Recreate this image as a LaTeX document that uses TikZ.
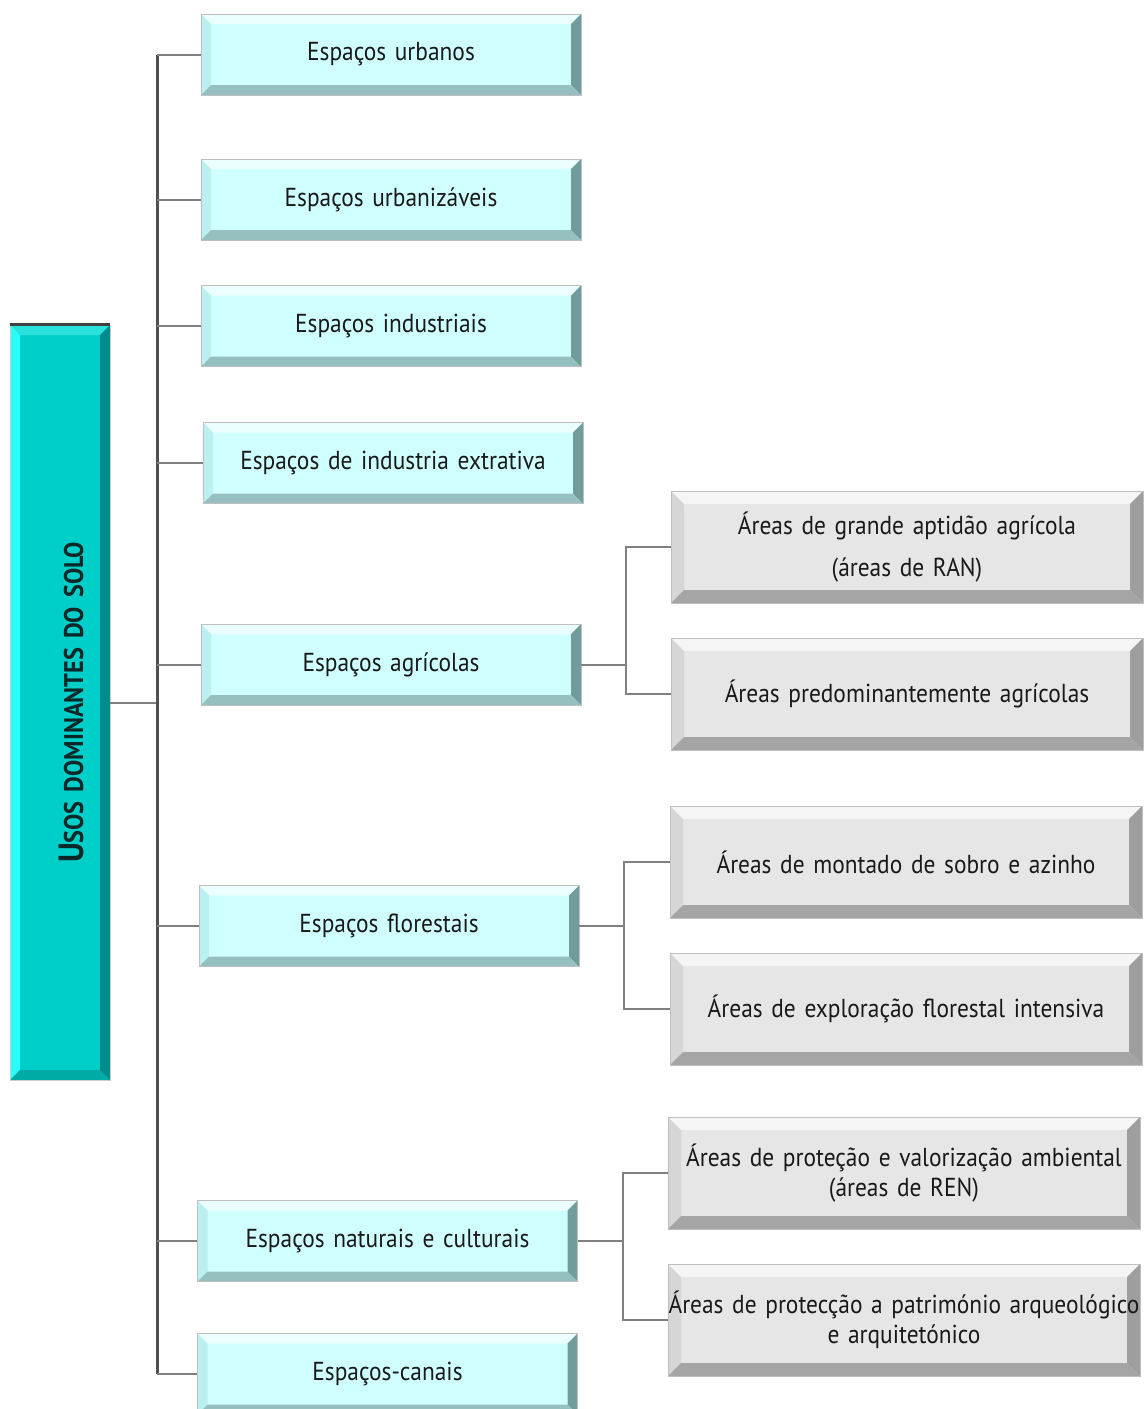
\documentclass[tikz,border=0pt]{standalone}
\usepackage{fontspec}
\setmainfont{PT Sans}[FakeStretch=0.9]
\usetikzlibrary{positioning}

\definecolor{cyanmain}{RGB}{208,255,255}
\definecolor{cyantop}{RGB}{236,255,255}
\definecolor{cyanleft}{RGB}{186,240,240}
\definecolor{cyanright}{RGB}{112,156,156}
\definecolor{cyanbottom}{RGB}{150,192,192}
\definecolor{greymain}{RGB}{230,230,230}
\definecolor{greytop}{RGB}{245,245,245}
\definecolor{greyleft}{RGB}{214,214,214}
\definecolor{greyright}{RGB}{158,158,158}
\definecolor{greybottom}{RGB}{165,165,165}
\definecolor{tealmain}{RGB}{0,206,200}
\definecolor{tealtop}{RGB}{40,224,220}
\definecolor{tealleft}{RGB}{40,255,255}
\definecolor{tealright}{RGB}{0,140,140}
\definecolor{tealbottom}{RGB}{0,170,165}
\definecolor{linkgrey}{RGB}{128,128,128}
\definecolor{trunkgrey}{RGB}{80,80,80}
\definecolor{inkteal}{RGB}{10,40,40}

% four bevel faces: top, left, right, bottom, bevel size
\newcommand\bevelfaces[5]{%
  \fill[#1] (path picture bounding box.north west) -- (path picture bounding box.north east)
    -- ([shift={(-#5,-#5)}]path picture bounding box.north east)
    -- ([shift={(#5,-#5)}]path picture bounding box.north west) -- cycle;
  \fill[#2] (path picture bounding box.north west) -- (path picture bounding box.south west)
    -- ([shift={(#5,#5)}]path picture bounding box.south west)
    -- ([shift={(#5,-#5)}]path picture bounding box.north west) -- cycle;
  \fill[#3] (path picture bounding box.north east) -- (path picture bounding box.south east)
    -- ([shift={(-#5,#5)}]path picture bounding box.south east)
    -- ([shift={(-#5,-#5)}]path picture bounding box.north east) -- cycle;
  \fill[#4] (path picture bounding box.south west) -- (path picture bounding box.south east)
    -- ([shift={(-#5,#5)}]path picture bounding box.south east)
    -- ([shift={(#5,#5)}]path picture bounding box.south west) -- cycle;
}
\newcommand\tsp{\hspace{9pt}}
% box label font with slightly tighter word spacing
\newcommand\labelfont{\fontsize{26}{30}\selectfont\spaceskip=4.5pt plus 1pt minus 1pt\relax}

\tikzset{
  x=1pt, y=-1pt,
  boxbase/.style={rectangle, inner sep=0pt, align=center, draw=black!25, line width=0.8pt,
    font=\labelfont, text=black!90},
  spacebox/.style={boxbase, fill=cyanmain, minimum width=380pt, minimum height=81pt,
    text width=370pt,
    path picture={\bevelfaces{cyantop}{cyanleft}{cyanright}{cyanbottom}{10pt}}},
  areabox/.style={boxbase, fill=greymain, minimum width=472pt, minimum height=112pt,
    text width=472pt,
    path picture={\bevelfaces{greytop}{greyleft}{greyright}{greybottom}{13pt}}},
  titlebox/.style={rectangle, inner sep=0pt, fill=tealmain, draw=black!20, line width=0.8pt,
    minimum width=100pt, minimum height=755pt,
    path picture={\bevelfaces{tealtop}{tealleft}{tealright}{tealbottom}{10pt}}},
  link/.style={draw=linkgrey, line width=2pt},
  trunk/.style={draw=trunkgrey, line width=2.4pt},
}

\begin{document}
\begin{tikzpicture}
\useasboundingbox (0,0) rectangle (1144,1409);

% title column
\node[titlebox] (t) at (60,702.5) {};
\draw[black!75, line width=3pt] (t.north west) -- (t.north east);
\node[rotate=90, text=inkteal, font=\bfseries] (tt) at ([xshift=11pt]t.center)
  {\fontsize{35}{36}\selectfont U\fontsize{27}{36}\selectfont SOS\tsp DOMINANTES\tsp DO\tsp SOLO};

% first-level land uses
\node[spacebox] (urb)  at (391,54.5)  {Espaços urbanos};
\node[spacebox] (urbz) at (391,199.5) {Espaços urbanizáveis};
\node[spacebox] (ind)  at (391,326)   {Espaços industriais};
\node[spacebox] (ext)  at (393,463)   {Espaços de industria extrativa};
\node[spacebox] (agr)  at (391,664.5) {Espaços agrícolas};
\node[spacebox] (flo)  at (389,926)   {Espaços florestais};
\node[spacebox] (nat)  at (387.5,1241) {Espaços naturais e culturais};
\node[spacebox] (can)  at (387.5,1374) {Espaços-canais};

% second-level areas
\node[areabox] (ran)  at (907,547)   {Áreas de grande aptidão agrícola\\[12pt](áreas de RAN)};
\node[areabox] (pagr) at (907,694)   {Áreas predominantemente agrícolas};
\node[areabox] (mon)  at (906,862)   {Áreas de montado de sobro e azinho};
\node[areabox] (expl) at (906,1009)  {Áreas de exploração florestal intensiva};
\node[areabox] (ren)  at (904,1173)  {Áreas de proteção e valorização ambiental\\(áreas de REN)};
\node[areabox] (pat)  at (904,1320)  {Áreas de protecção a património arqueológico\\e arquitetónico};

% main tree
\draw[link] (t.east) -- ++(47,0) coordinate (j);
\draw[trunk] (j |- urb.west) -- (j |- can.west);
\foreach \b in {urb,urbz,ind,ext,agr,flo,nat,can}
  \draw[link] (j |- \b.west) -- (\b.west);

% sub-branches
\draw[link] (agr.east) -- ++(45,0) coordinate (ja);
\draw[link] (ran.west) -- (ja |- ran.west) -- (ja |- pagr.west) -- (pagr.west);
\draw[link] (flo.east) -- ++(45,0) coordinate (jf);
\draw[link] (mon.west) -- (jf |- mon.west) -- (jf |- expl.west) -- (expl.west);
\draw[link] (nat.east) -- ++(45,0) coordinate (jn);
\draw[link] (ren.west) -- (jn |- ren.west) -- (jn |- pat.west) -- (pat.west);
\end{tikzpicture}
\end{document}
